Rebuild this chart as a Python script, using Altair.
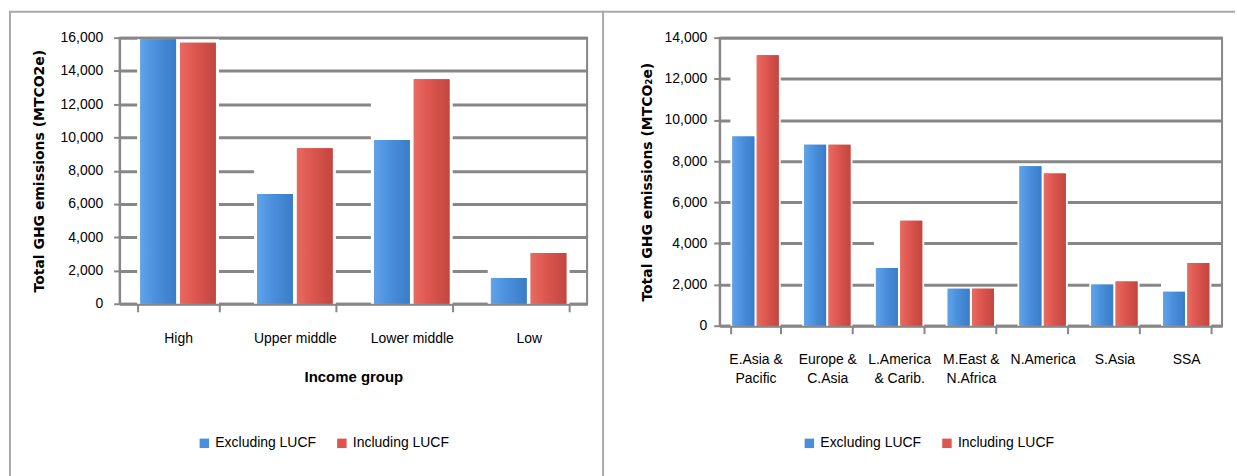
import altair as alt
import pandas as pd

# ---- data ----
series = ["Excluding LUCF", "Including LUCF"]
series_colors = ["#4a8fdc", "#dc554e"]

income_groups = ["High", "Upper middle", "Lower middle", "Low"]
income_excl = [15900, 6600, 9850, 1550]
income_incl = [15700, 9350, 13500, 3050]

regions = ["E.Asia &|Pacific", "Europe &|C.Asia", "L.America|& Carib.", "M.East &|N.Africa",
           "N.America", "S.Asia", "SSA"]
region_excl = [9200, 8800, 2800, 1800, 7750, 2000, 1650]
region_incl = [13150, 8800, 5100, 1800, 7400, 2150, 3050]

LABEL_FONT = "Liberation Sans, Arial, sans-serif"
TITLE_FONT = "DejaVu Sans, sans-serif"
GRAY = "#878787"
FRAME = "#a9a9a9"

GRADIENTS = {
    series[0]: alt.Gradient(gradient="linear", x1=0, x2=1, y1=0, y2=0, stops=[
        alt.GradientStop(color="#5fa3ea", offset=0),
        alt.GradientStop(color="#4a8fdc", offset=0.45),
        alt.GradientStop(color="#3a7cc6", offset=1)]),
    series[1]: alt.Gradient(gradient="linear", x1=0, x2=1, y1=0, y2=0, stops=[
        alt.GradientStop(color="#e86a60", offset=0),
        alt.GradientStop(color="#dc554e", offset=0.45),
        alt.GradientStop(color="#c24640", offset=1)]),
}


def long_df(cats, excl, incl):
    rows = []
    for c, a, b in zip(cats, excl, incl):
        rows.append({"cat": c, "series": series[0], "value": a})
        rows.append({"cat": c, "series": series[1], "value": b})
    return pd.DataFrame(rows)


def panel(cats, excl, incl, ymax, width, height, ytitle, xtitle, label_pad,
          ylabel_pad, ytitle_pad, legx, frame_lines):
    df = long_df(cats, excl, incl)
    mdf = pd.DataFrame({"cat": cats, "value": [max(a, b) for a, b in zip(excl, incl)]})

    x_axis_kwargs = dict(
        labelAngle=0, labelFont=LABEL_FONT, labelFontSize=14, labelColor="black",
        labelPadding=label_pad, labelExpr="split(datum.label, '|')", labelLineHeight=19,
        tickBand="extent", tickSize=8, tickColor=GRAY, tickWidth=2,
        domainColor=GRAY, domainWidth=2,
    )
    if xtitle:
        x_axis_kwargs.update(title=xtitle, titleFont=LABEL_FONT, titleFontSize=15,
                             titleFontWeight="bold", titlePadding=24, titleColor="black")
    else:
        x_axis_kwargs.update(title=None)
    x = alt.X("cat:N", sort=cats,
              scale=alt.Scale(paddingInner=0.3, paddingOuter=0.15),
              axis=alt.Axis(**x_axis_kwargs))
    y = alt.Y("value:Q",
              scale=alt.Scale(domain=[0, ymax], nice=False),
              axis=alt.Axis(values=list(range(0, ymax + 1, 2000)), format=",d",
                            grid=True, gridColor=GRAY, gridWidth=3,
                            domainColor=GRAY, domainWidth=2,
                            tickColor=GRAY, tickSize=6, tickWidth=2,
                            labelFont=LABEL_FONT, labelFontSize=14, labelColor="black",
                            labelPadding=ylabel_pad,
                            title=ytitle, titleFont=TITLE_FONT, titleFontSize=14,
                            titleFontWeight="bold", titleColor="black",
                            titlePadding=ytitle_pad))
    xoff = alt.XOffset("series:N", sort=series,
                       scale=alt.Scale(domain=series, paddingInner=0.1, paddingOuter=0.08))

    white = alt.Chart(mdf).mark_bar(color="white").encode(x=x, y=y)
    bars = alt.Chart(df).mark_bar().encode(
        x=x,
        xOffset=xoff,
        y=y,
        color=alt.Color("series:N", sort=series,
                        scale=alt.Scale(domain=series, range=series_colors),
                        legend=alt.Legend(orient="none", legendX=legx, legendY=400,
                                          direction="horizontal", title=None,
                                          symbolType="square", symbolSize=90,
                                          symbolStrokeWidth=0,
                                          labelFont=LABEL_FONT, labelFontSize=14,
                                          labelColor="black", columnPadding=18)),
    )
    shades = [
        alt.Chart(df).transform_filter(alt.datum.series == s)
        .mark_bar(color=GRADIENTS[s]).encode(x=x, xOffset=xoff, y=y)
        for s in series
    ]
    one = pd.DataFrame({"k": [0]})
    frames = [
        alt.Chart(one).mark_rule(color=FRAME, strokeWidth=2).encode(
            x=alt.value(x1), y=alt.value(y1), x2=alt.value(x2), y2=alt.value(y2))
        for (x1, y1, x2, y2) in frame_lines
    ]
    return alt.layer(white, bars, *shades, *frames).properties(width=width, height=height)


left = panel(income_groups, income_excl, income_incl, 16000, 469, 267,
             "Total GHG emissions (MTCO2e)", "Income group",
             20, 11, 14, 78,
             [(-111, -26, 486, -26), (-110, -26, -110, 440), (485, -26, 485, 440)])

right = panel(regions, region_excl, region_incl, 14000, 504, 289,
              "Total GHG emissions (MTCO₂e)", None,
              19, 7, 10, 83,
              [(-118, -26, 517, -26)])

chart = alt.hconcat(left, right, spacing=133, bounds="flush").resolve_scale(
    color="independent", x="independent", y="independent", xOffset="independent"
).resolve_legend(color="independent").configure_view(
    stroke=GRAY, strokeWidth=2
).properties(
    padding={"left": 7, "top": 9, "right": 0, "bottom": 0},
    background="white",
)

chart.save("out.html", embed_options={"renderer": "svg", "actions": False})
